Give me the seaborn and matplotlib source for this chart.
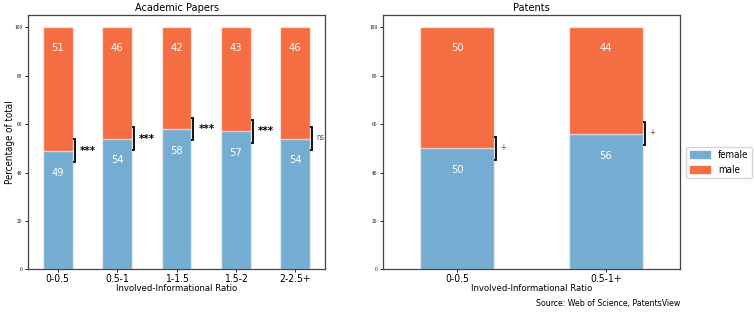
import matplotlib
matplotlib.use("Agg")
import matplotlib.pyplot as plt
import matplotlib.patches as mpatches
import seaborn as sns
import pandas as pd

# data
paper_bins = ["0-0.5", "0.5-1", "1-1.5", "1.5-2", "2-2.5+"]
paper_female = [49, 54, 58, 57, 54]
paper_male = [51, 46, 42, 43, 46]
paper_sig = ["***", "***", "***", "***", "ns"]
paper_ci = [4.8, 4.7, 4.7, 4.7, 4.7]

patent_bins = ["0-0.5", "0.5-1+"]
patent_female = [50, 56]
patent_male = [50, 44]
patent_sig = ["+", "+"]
patent_ci = [4.8, 4.7]

blue = "#74add1"
orange = "#f46d43"

plt.rcParams["font.family"] = ["DejaVu Sans"]
plt.rcParams["font.stretch"] = "condensed"

fig = plt.figure(figsize=(7.54, 3.14), dpi=100)
ax1 = fig.add_axes([0.0371, 0.142, 0.394, 0.810])
ax2 = fig.add_axes([0.508, 0.142, 0.394, 0.810])


def draw_panel(ax, bins, female, male, sig, ci, title):
    df = pd.DataFrame({"bin": bins, "female": female, "male": male})
    df["total"] = df["female"] + df["male"]
    edge = (1, 1, 1, 0.6)
    sns.barplot(data=df, x="bin", y="total", color=orange, saturation=1,
                width=0.5, edgecolor=edge, linewidth=1, ax=ax)
    sns.barplot(data=df, x="bin", y="female", color=blue, saturation=1,
                width=0.5, edgecolor=edge, linewidth=1, ax=ax)
    ax.set_ylim(0, 105)
    ax.set_xlim(-0.5, len(bins) - 0.5)

    # pixel -> data unit on the x axis
    ax_px = ax.get_position().width * fig.get_figwidth() * fig.dpi
    px = len(bins) / ax_px

    for i, row in df.iterrows():
        ax.text(i, row["total"] - 8.5, f"{row['male']:.0f}", color="white",
                ha="center", va="center", fontsize=8)
        ax.text(i, row["female"] - 9, f"{row['female']:.0f}", color="white",
                ha="center", va="center", fontsize=8)
        x0 = i + 0.25
        x1 = x0 + 2 * px
        lo = row["female"] - ci[i]
        hi = row["female"] + ci[i]
        ax.plot([x0, x1, x1, x0], [lo, lo, hi, hi], color="black", lw=1.3,
                solid_capstyle="butt", solid_joinstyle="miter")
        s = sig[i]
        if s == "***":
            ax.text(x1 + 5 * px, row["female"], s, ha="left", va="center",
                    fontsize=8, color="black", fontweight="bold")
        else:
            ax.text(x1 + 4 * px, row["female"] + 0.5, s, ha="left",
                    va="center", fontsize=5.5, color="#555555")

    ax.set_title(title, fontsize=7.8, pad=3)
    ax.set_xlabel("Involved-Informational Ratio", fontsize=6.8, labelpad=0)
    ax.set_ylabel("")
    ax.set_yticks([0, 20, 40, 60, 80, 100])
    ax.tick_params(axis="y", labelsize=3.5, length=2, width=0.6, pad=2,
                   labelfontfamily="DejaVu Serif")
    ax.tick_params(axis="x", labelsize=7.5, length=2.5, width=0.6, pad=1)
    for sp in ax.spines.values():
        sp.set_visible(True)
        sp.set_color("#444444")
        sp.set_linewidth(0.9)


draw_panel(ax1, paper_bins, paper_female, paper_male, paper_sig, paper_ci,
           "Academic Papers")
draw_panel(ax2, patent_bins, patent_female, patent_male, patent_sig,
           patent_ci, "Patents")
ax1.set_ylabel("Percentage of total", fontsize=7)
ax1.yaxis.set_label_coords(-0.045, 0.5)

handles = [mpatches.Patch(color=blue, label="female"),
           mpatches.Patch(color=orange, label="male")]
ax2.legend(handles=handles, loc="center left", bbox_to_anchor=(1.005, 0.42),
           fontsize=7, handlelength=2.1, handletextpad=0.8, borderpad=0.35)

fig.text(0.902, 0.02, "Source: Web of Science, PatentsView", ha="right",
         va="bottom", fontsize=6.3)

fig.savefig("out.png", dpi=100)
